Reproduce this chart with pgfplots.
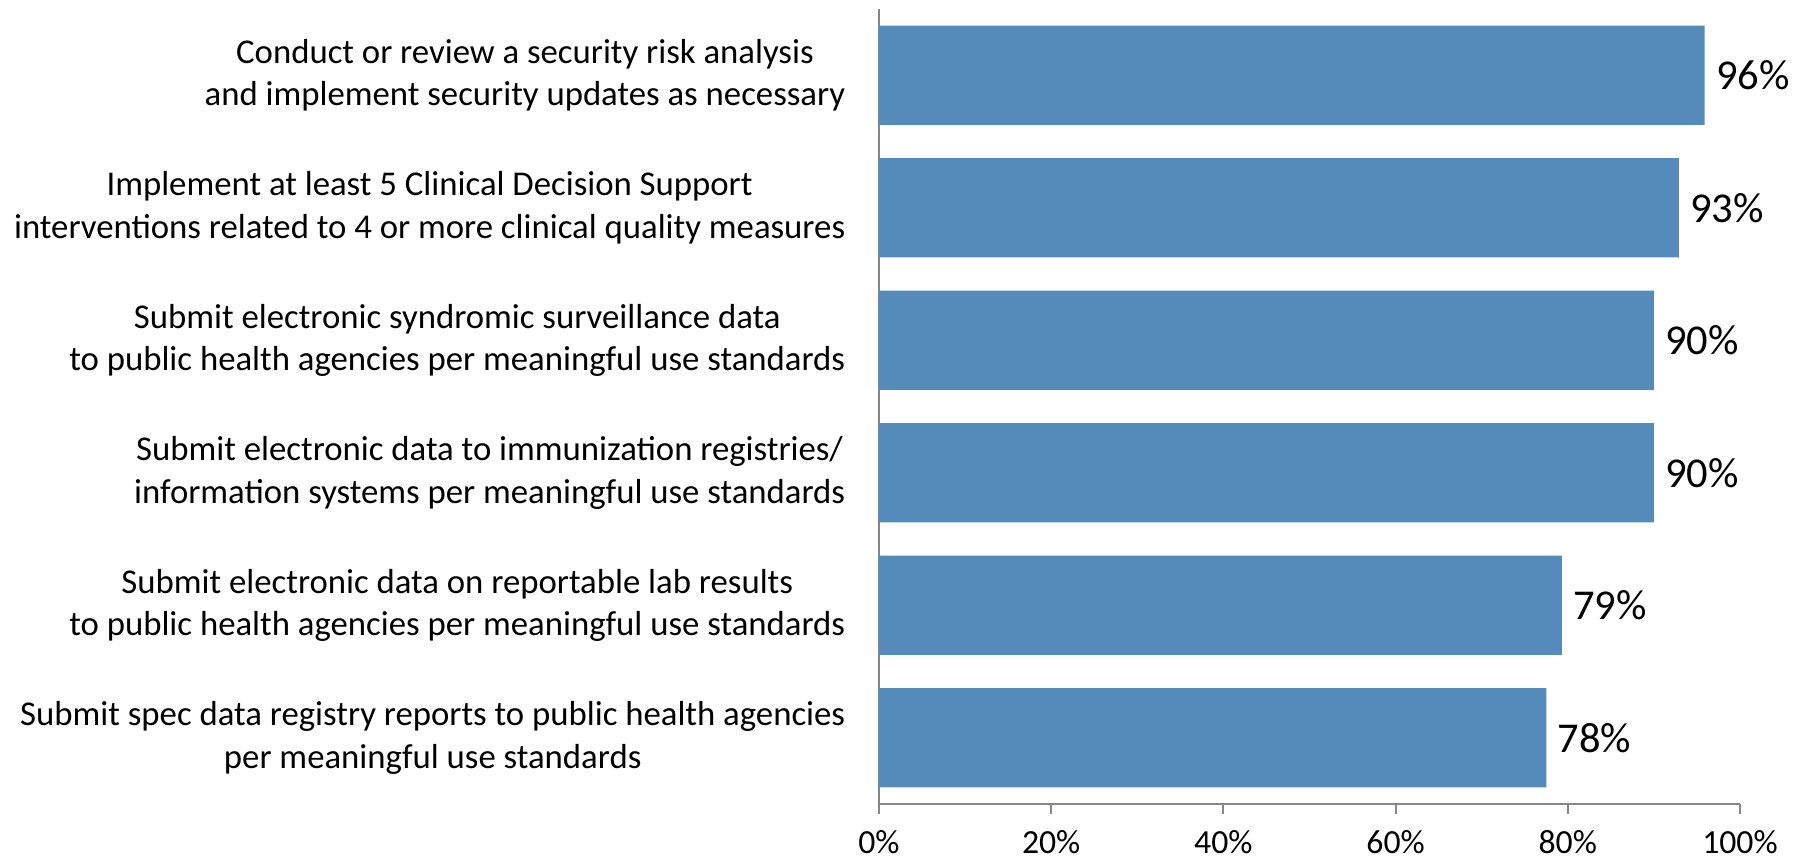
\documentclass[border=0pt]{standalone}
\usepackage{pgfplots}
\pgfplotsset{compat=1.18}
\usepackage{fontspec}
\setmainfont{Carlito}
\definecolor{barblue}{RGB}{85,139,186}
\definecolor{axgray}{RGB}{134,134,134}
\begin{document}
\begin{tikzpicture}
\begin{axis}[
  at={(0,0)}, anchor=south west,
  scale only axis,
  width=344.4pt, height=318pt,
  xbar, bar width=0.75,
  xmin=0, xmax=100,
  ymin=-0.5, ymax=5.5,
  y dir=reverse,
  axis x line*=bottom, axis y line*=left,
  axis line style={axgray, line width=0.8pt},
  xtick={0,20,40,60,80,100},
  xticklabels={0\%,20\%,40\%,60\%,80\%,100\%},
  ytick={0,1,2,3,4,5},
  minor ytick={-0.5,0.5,1.5,2.5,3.5,4.5,5.5},
  major tick length=4pt,
  minor tick length=3pt,
  tick align=outside,
  tick style={axgray, line width=0.8pt},
  ytick style={draw=none},
  minor tick style={axgray, line width=0.8pt},
  yticklabels={
    {Conduct or review a security risk analysis\\and implement security updates as necessary},
    {Implement at least 5 Clinical Decision Support\\interventions related to 4 or more clinical quality measures},
    {Submit electronic syndromic surveillance data\\to public health agencies per meaningful use standards},
    {Submit electronic data to immunization registries/\\information systems per meaningful use standards},
    {Submit electronic data on reportable lab results\\to public health agencies per meaningful use standards},
    {Submit spec data registry reports to public health agencies\\per meaningful use standards}},
  yticklabel style={align=center, font=\fontsize{13.9pt}{17pt}\selectfont, xshift=-6pt},
  xticklabel style={font=\fontsize{13.5pt}{15pt}\selectfont, yshift=-3pt},
  point meta=explicit symbolic,
  nodes near coords,
  nodes near coords style={font=\fontsize{17pt}{20pt}\selectfont, black, anchor=west, xshift=1pt},
  clip=false,
]
\addplot[fill=barblue, draw=none] coordinates {
  (95.9,0) [96\%]
  (92.9,1) [93\%]
  (90.0,2) [90\%]
  (90.0,3) [90\%]
  (79.3,4) [79\%]
  (77.5,5) [78\%]
};
\end{axis}
\pgfresetboundingbox
\path[use as bounding box] (-351.6pt,-21.6pt) rectangle (368.8pt,321.6pt);
\end{tikzpicture}
\end{document}
